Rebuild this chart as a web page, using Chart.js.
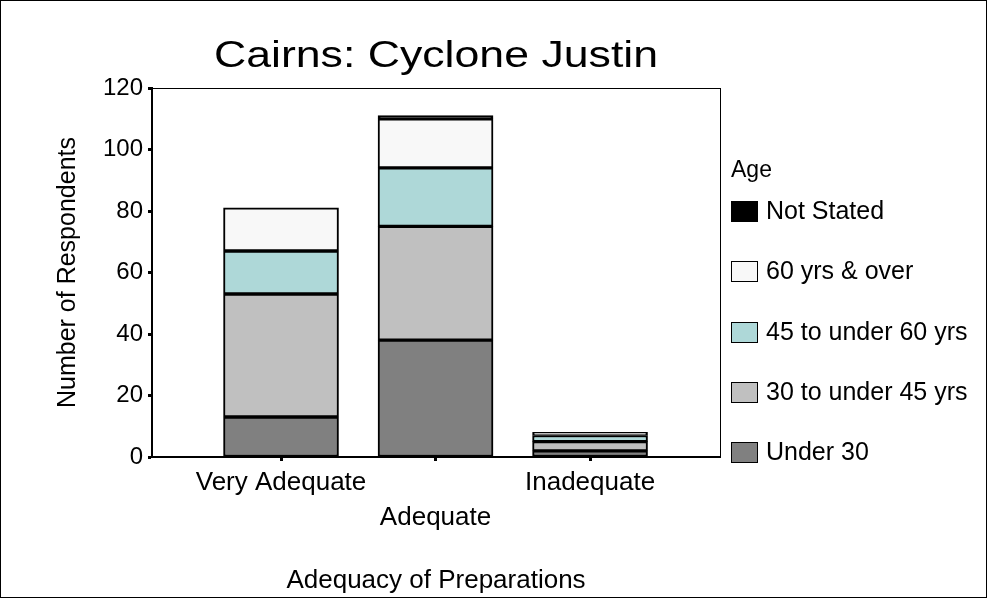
<!DOCTYPE html>
<html>
<head>
<meta charset="utf-8">
<script src="https://cdn.jsdelivr.net/npm/chart.js@4"></script>
<style>
body{margin:0;background:#fff;}
#wrap{position:relative;width:987px;height:598px;}
#title{position:absolute;left:0;width:872px;top:37px;text-align:center;font-family:"Liberation Sans",Arial,sans-serif;font-size:36px;line-height:36px;color:#000;white-space:nowrap;transform:scaleX(1.24);transform-origin:436px 0;}
#legend{position:absolute;left:0;top:0;font-family:"Liberation Sans",Arial,sans-serif;font-size:25px;color:#000;}
#legend div{position:absolute;white-space:nowrap;}
.sw{position:absolute;width:25px;height:19px;border:1px solid #000;}
</style>
</head>
<body>
<div id="wrap">
<canvas id="c" width="987" height="598"></canvas>
<div id="title">Cairns: Cyclone Justin</div>
<div id="legend"></div>
</div>
<script>
/* DATA */
let categories=["Very Adequate","Adequate","Inadequate"];
let under30=[13,38,2];
let age30to45=[40,37,3];
let age45to60=[14,19,2];
let age60plus=[14,16,1];
let notStated=[0,1,0];
let seriesNames=["Under 30","30 to under 45 yrs","45 to under 60 yrs","60 yrs & over","Not Stated"];
let seriesColors=["#808080","#c0c0c0","#aed8d8","#f8f8f8","#000000"];
let yTicks=[0,20,40,60,80,100,120];

let font="'Liberation Sans', Arial, sans-serif";
let allSeries=[under30,age30to45,age45to60,age60plus,notStated];

let datasets=allSeries.map((vals,s)=>({
label:seriesNames[s],
data:vals.map((v,i)=>({x:i+1,y:v})),
backgroundColor:seriesColors[s],
borderColor:"#000",
borderWidth:2,
borderSkipped:false,
barThickness:115
}));

/* frame + outer border */
let frame={
id:"frame",
afterDatasetsDraw(ch){
let a=ch.chartArea,ctx=ch.ctx;
ctx.save();
ctx.strokeStyle="#000";
ctx.lineWidth=1;
ctx.strokeRect(a.left+0.5,a.top+0.5,a.right-a.left,a.bottom-a.top);
ctx.strokeRect(0.5,0.5,ch.width-1,ch.height-1);
ctx.restore();
}
};

let chart=new Chart(document.getElementById("c"),{
type:"bar",
data:{datasets},
plugins:[frame],
options:{
responsive:false,
animation:false,
layout:{padding:{left:52,right:267,top:88,bottom:0}},
plugins:{
legend:{display:false},
tooltip:{enabled:false},
title:{display:false}
},
scales:{
x:{
type:"linear",
stacked:true,
offset:false,
min:0.165,
max:3.841,
afterBuildTicks(sc){sc.ticks=categories.map((c,i)=>({value:i+1}));},
afterFit(sc){sc.height=141;},
ticks:{
color:"#000",
font:{family:font,size:26,lineHeight:1.346},
padding:4,
maxRotation:0,
autoSkip:false,
callback:(v)=>{let i=Math.round(v)-1;return i===1?["",categories[i]]:categories[i];}
},
grid:{offset:false,drawOnChartArea:false,tickLength:4,tickWidth:3,tickColor:"#000"},
border:{color:"#000",width:2},
title:{display:true,text:"Adequacy of Preparations",color:"#000",font:{family:font,size:26},padding:{bottom:2}}
},
y:{
stacked:true,
min:0,
max:120,
afterBuildTicks(sc){sc.ticks=yTicks.map(v=>({value:v}));},
afterFit(sc){sc.width=100;},
ticks:{color:"#000",font:{family:font,size:24},padding:5},
grid:{drawOnChartArea:false,tickLength:4,tickWidth:3,tickColor:"#000"},
border:{color:"#000",width:2},
title:{display:true,text:"Number of Respondents",color:"#000",font:{family:font,size:25},padding:{top:1}}
}
}
}
});

/* LEGEND */
let legend=document.getElementById("legend");
let head=document.createElement("div");
head.textContent="Age";
head.style.left="731px";head.style.top="156px";
head.style.fontSize="23px";
legend.appendChild(head);
seriesNames.slice().reverse().forEach((name,k)=>{
let s=seriesNames.length-1-k;
let cy=211+k*60.3;
let sw=document.createElement("span");
sw.className="sw";
sw.style.left="731px";sw.style.top=(cy-10)+"px";
sw.style.background=seriesColors[s];
legend.appendChild(sw);
let t=document.createElement("div");
t.textContent=name;
t.style.left="766px";t.style.top=(cy-15)+"px";
legend.appendChild(t);
});
</script>
</body>
</html>
